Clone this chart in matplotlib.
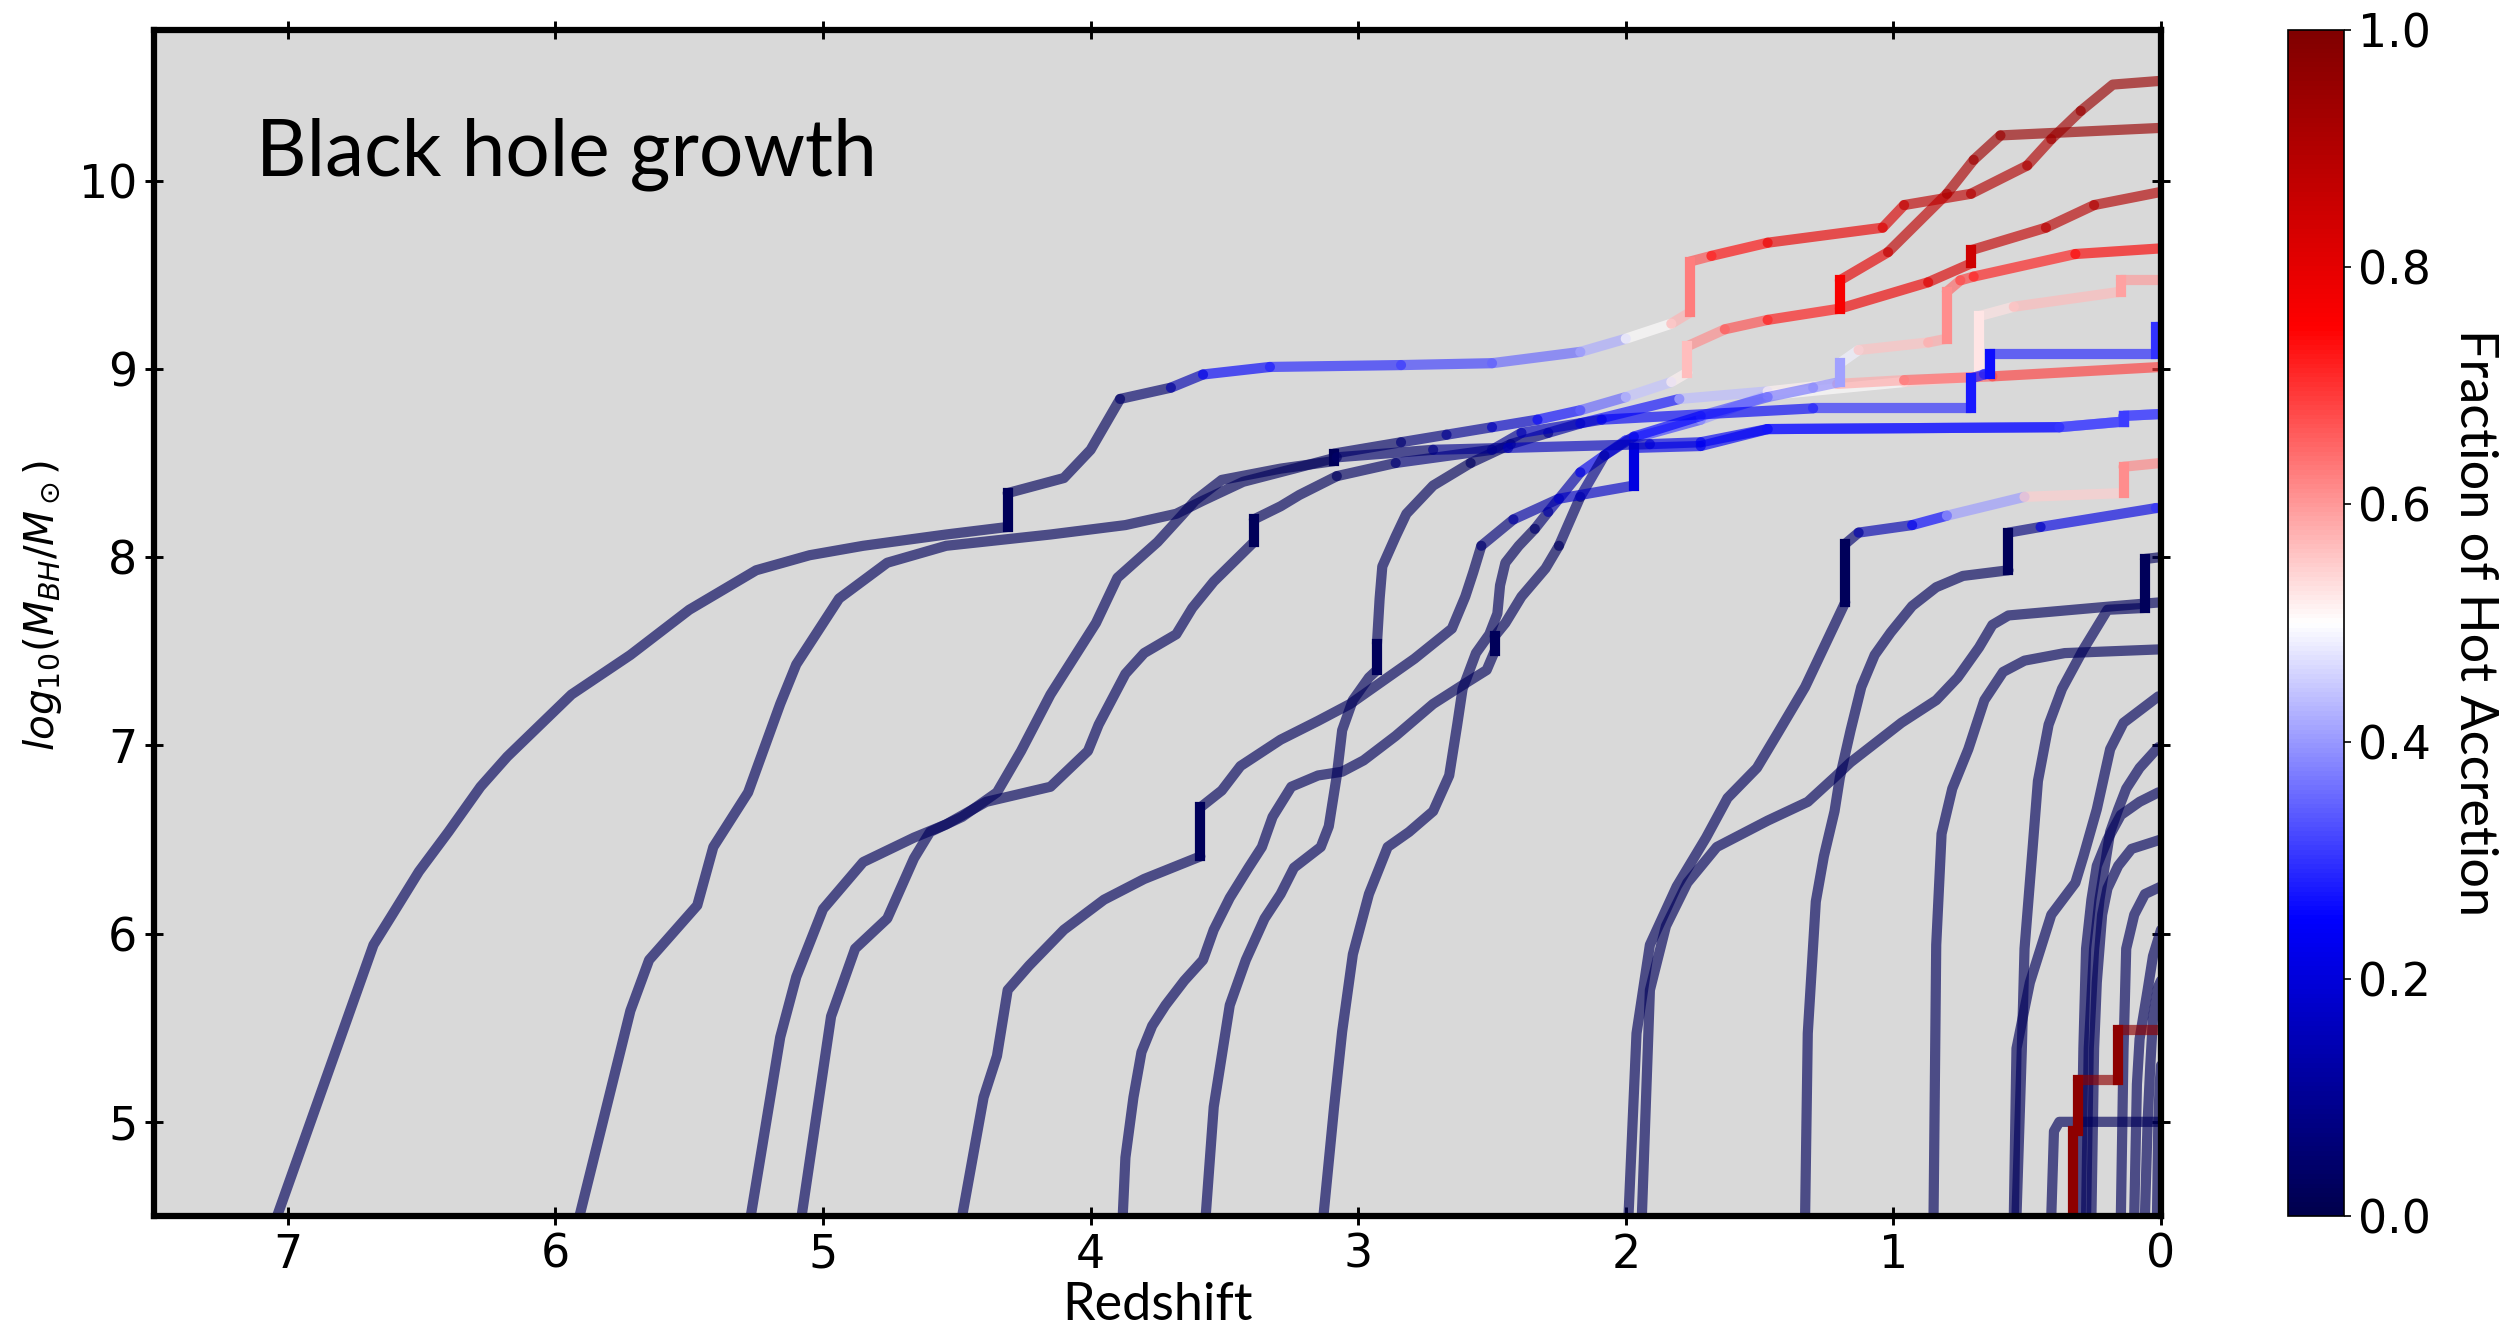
import matplotlib
matplotlib.use("Agg")
import matplotlib.pyplot as plt
import numpy as np
from matplotlib.collections import LineCollection
from matplotlib.colors import Normalize
from matplotlib.cm import ScalarMappable

# every track: (redshift, log10 M_BH, fraction of hot accretion)
bh_a = [(7.04, 4.50, 0.02), (6.68, 5.94, 0.02), (6.61, 6.10, 0.02), (6.51, 6.33, 0.02),
        (6.40, 6.54, 0.02), (6.28, 6.78, 0.02), (6.18, 6.94, 0.02),
        (5.94, 7.27, 0.02), (5.72, 7.48, 0.02), (5.50, 7.72, 0.02), (5.25, 7.93, 0.02),
        (5.05, 8.01, 0.02), (4.85, 8.06, 0.02), (4.54, 8.12, 0.02), (4.31, 8.16, 0.02),
        (4.31, 8.34, 0.02), (4.10, 8.42, 0.02), (4.00, 8.57, 0.02), (3.89, 8.84, 0.02),
        (3.70, 8.90, 0.06), (3.58, 8.97, 0.22), (3.33, 9.01, 0.27), (2.84, 9.02, 0.30),
        (2.50, 9.03, 0.32), (2.17, 9.09, 0.38), (2.00, 9.16, 0.45), (1.83, 9.24, 0.55),
        (1.76, 9.30, 0.60), (1.76, 9.57, 0.65), (1.68, 9.60, 0.70), (1.47, 9.67, 0.78),
        (1.04, 9.75, 0.80), (0.96, 9.87, 0.85), (0.71, 9.93, 0.90), (0.50, 10.08, 0.90),
        (0.41, 10.22, 0.92), (0.30, 10.37, 0.95), (0.18, 10.51, 0.95), (0.00, 10.53, 0.95)]
bh_b = [(5.91, 4.50, 0.02), (5.72, 5.59, 0.02), (5.65, 5.86, 0.02), (5.47, 6.15, 0.02),
        (5.41, 6.46, 0.02), (5.28, 6.75, 0.02), (5.16, 7.22, 0.02), (5.10, 7.43, 0.02),
        (4.94, 7.78, 0.02), (4.76, 7.97, 0.02), (4.54, 8.06, 0.02), (4.15, 8.12, 0.02),
        (3.87, 8.17, 0.02), (3.68, 8.23, 0.02), (3.58, 8.30, 0.02), (3.43, 8.40, 0.02),
        (3.24, 8.47, 0.02), (3.08, 8.53, 0.02), (2.72, 8.57, 0.06), (2.44, 8.58, 0.12),
        (1.91, 8.60, 0.20), (1.72, 8.61, 0.22), (1.47, 8.68, 0.25), (0.38, 8.69, 0.30),
        (0.14, 8.72, 0.32), (0.14, 8.75, 0.30), (0.00, 8.76, 0.33)]
bh_c = [(5.27, 4.50, 0.02), (5.16, 5.45, 0.02), (5.10, 5.77, 0.02), (5.00, 6.13, 0.02),
        (4.85, 6.38, 0.02), (4.66, 6.51, 0.02), (4.54, 6.58, 0.02), (4.39, 6.70, 0.02),
        (4.15, 6.78, 0.02), (4.01, 6.97, 0.02), (3.97, 7.11, 0.02), (3.87, 7.38, 0.02),
        (3.80, 7.49, 0.02), (3.68, 7.59, 0.02), (3.62, 7.73, 0.02), (3.54, 7.87, 0.02),
        (3.39, 8.08, 0.02), (3.39, 8.20, 0.02), (3.29, 8.27, 0.02), (3.22, 8.33, 0.02),
        (3.08, 8.43, 0.02), (2.86, 8.50, 0.04), (2.50, 8.57, 0.08), (2.39, 8.66, 0.12),
        (2.09, 8.73, 0.20), (1.30, 8.79, 0.28), (0.71, 8.79, 0.30), (0.71, 8.95, 0.25),
        (0.66, 8.97, 0.28), (0.64, 8.97, 0.28), (0.64, 9.08, 0.25), (0.02, 9.08, 0.32),
        (0.02, 9.22, 0.28), (0.00, 9.22, 0.30)]
bh_d = [(5.08, 4.50, 0.02), (4.97, 5.56, 0.02), (4.88, 5.92, 0.02), (4.76, 6.08, 0.02),
        (4.66, 6.40, 0.02), (4.60, 6.54, 0.02), (4.48, 6.62, 0.02), (4.35, 6.75, 0.02),
        (4.26, 6.97, 0.02), (4.15, 7.27, 0.02), (3.98, 7.65, 0.02), (3.90, 7.89, 0.02),
        (3.75, 8.08, 0.02), (3.66, 8.22, 0.02), (3.61, 8.30, 0.02), (3.51, 8.41, 0.02),
        (3.29, 8.47, 0.02), (3.09, 8.51, 0.02), (3.09, 8.55, 0.02), (2.84, 8.61, 0.05),
        (2.67, 8.65, 0.08), (2.50, 8.69, 0.12), (2.33, 8.73, 0.22), (2.17, 8.78, 0.30),
        (2.00, 8.85, 0.40), (1.83, 8.93, 0.48), (1.77, 8.98, 0.55), (1.77, 9.12, 0.58),
        (1.63, 9.21, 0.65), (1.47, 9.26, 0.70), (1.20, 9.32, 0.76), (0.87, 9.46, 0.80),
        (0.71, 9.56, 0.84), (0.71, 9.63, 0.85), (0.43, 9.75, 0.88), (0.25, 9.87, 0.90),
        (0.00, 9.94, 0.90)]
bh_d2 = [(1.20, 9.32, 0.78), (1.20, 9.47, 0.75), (1.02, 9.62, 0.85), (0.80, 9.93, 0.90),
         (0.70, 10.11, 0.93), (0.60, 10.24, 0.95), (0.00, 10.28, 0.95)]
bh_e = [(4.48, 4.50, 0.02), (4.40, 5.13, 0.02), (4.35, 5.35, 0.02), (4.31, 5.70, 0.02),
        (4.23, 5.83, 0.02), (4.10, 6.02, 0.02), (3.95, 6.18, 0.02), (3.80, 6.29, 0.02),
        (3.59, 6.41, 0.02), (3.59, 6.67, 0.02), (3.51, 6.76, 0.02), (3.44, 6.89, 0.02),
        (3.29, 7.03, 0.02), (3.15, 7.13, 0.02), (3.03, 7.22, 0.02), (2.93, 7.32, 0.02),
        (2.79, 7.46, 0.02), (2.65, 7.62, 0.02), (2.60, 7.79, 0.02), (2.57, 7.92, 0.02),
        (2.54, 8.06, 0.02), (2.42, 8.20, 0.10), (2.25, 8.31, 0.15), (1.97, 8.38, 0.20),
        (1.97, 8.58, 0.22), (1.72, 8.59, 0.22), (1.47, 8.68, 0.25), (0.38, 8.69, 0.30),
        (0.14, 8.72, 0.32), (0.14, 8.75, 0.30), (0.00, 8.76, 0.33)]
bh_f = [(3.88, 4.50, 0.02), (3.87, 4.81, 0.02), (3.84, 5.13, 0.02), (3.81, 5.37, 0.02),
        (3.77, 5.51, 0.02), (3.72, 5.62, 0.02), (3.65, 5.75, 0.02), (3.58, 5.86, 0.02),
        (3.54, 6.02, 0.02), (3.48, 6.19, 0.02), (3.41, 6.35, 0.02), (3.36, 6.46, 0.02),
        (3.32, 6.62, 0.02), (3.25, 6.78, 0.02), (3.15, 6.84, 0.02), (3.06, 6.86, 0.02),
        (2.98, 6.92, 0.02), (2.86, 7.05, 0.02), (2.72, 7.22, 0.02), (2.61, 7.32, 0.02),
        (2.52, 7.40, 0.02), (2.49, 7.50, 0.02), (2.49, 7.58, 0.02), (2.45, 7.65, 0.02),
        (2.39, 7.79, 0.02), (2.30, 7.94, 0.02), (2.25, 8.06, 0.02), (2.17, 8.32, 0.05),
        (2.08, 8.54, 0.12), (1.97, 8.64, 0.20), (1.72, 8.75, 0.30), (1.47, 8.85, 0.35),
        (1.30, 8.90, 0.38), (1.20, 8.93, 0.40), (1.20, 9.03, 0.42), (1.13, 9.10, 0.55),
        (0.87, 9.14, 0.57), (0.80, 9.16, 0.60), (0.80, 9.41, 0.62), (0.75, 9.47, 0.68),
        (0.70, 9.49, 0.70), (0.32, 9.61, 0.75), (0.00, 9.64, 0.76)]
bh_g = [(3.57, 4.50, 0.02), (3.54, 5.08, 0.02), (3.51, 5.35, 0.02), (3.48, 5.62, 0.02),
        (3.42, 5.86, 0.02), (3.35, 6.08, 0.02), (3.29, 6.21, 0.02), (3.24, 6.35, 0.02),
        (3.14, 6.46, 0.02), (3.11, 6.57, 0.02), (3.08, 6.84, 0.02), (3.06, 7.08, 0.02),
        (3.02, 7.24, 0.02), (2.96, 7.36, 0.02), (2.93, 7.40, 0.02), (2.93, 7.54, 0.02),
        (2.92, 7.78, 0.02), (2.91, 7.95, 0.02), (2.86, 8.11, 0.02), (2.82, 8.23, 0.02),
        (2.72, 8.38, 0.02), (2.58, 8.50, 0.02), (2.43, 8.60, 0.05), (2.29, 8.66, 0.08),
        (2.17, 8.71, 0.15), (1.80, 8.84, 0.38), (1.47, 8.88, 0.48), (1.21, 8.92, 0.55),
        (0.96, 8.94, 0.62), (0.63, 8.96, 0.68), (0.00, 9.01, 0.70)]
bh_h = [(3.13, 4.50, 0.02), (3.09, 5.08, 0.02), (3.06, 5.48, 0.02), (3.02, 5.89, 0.02),
        (2.96, 6.21, 0.02), (2.89, 6.46, 0.02), (2.81, 6.54, 0.02), (2.72, 6.65, 0.02),
        (2.66, 6.84, 0.02), (2.63, 7.11, 0.02), (2.61, 7.30, 0.02), (2.56, 7.49, 0.02),
        (2.51, 7.59, 0.02), (2.48, 7.70, 0.02), (2.47, 7.85, 0.02), (2.45, 7.97, 0.02),
        (2.40, 8.06, 0.02), (2.34, 8.15, 0.02), (2.29, 8.24, 0.08), (2.17, 8.45, 0.18),
        (2.00, 8.62, 0.28), (1.72, 8.73, 0.35), (1.47, 8.86, 0.45), (0.96, 8.93, 0.55),
        (0.68, 8.96, 0.55), (0.68, 9.28, 0.50), (0.55, 9.33, 0.56), (0.15, 9.41, 0.58),
        (0.15, 9.47, 0.60), (0.00, 9.47, 0.60)]
bh_i1 = [(1.99, 4.50, 0.02), (1.96, 5.47, 0.02), (1.91, 5.94, 0.02), (1.81, 6.25, 0.02),
         (1.70, 6.51, 0.02), (1.62, 6.72, 0.02), (1.51, 6.88, 0.02), (1.43, 7.07, 0.02),
         (1.33, 7.31, 0.02), (1.26, 7.52, 0.02), (1.18, 7.76, 0.02), (1.18, 8.07, 0.02),
         (1.13, 8.13, 0.08), (0.93, 8.17, 0.20), (0.80, 8.22, 0.30), (0.51, 8.32, 0.50),
         (0.14, 8.34, 0.60), (0.14, 8.48, 0.62), (0.00, 8.50, 0.62)]
bh_i2 = [(1.94, 4.50, 0.02), (1.91, 5.70, 0.02), (1.85, 6.04, 0.02), (1.77, 6.27, 0.02),
         (1.66, 6.46, 0.02), (1.47, 6.60, 0.02), (1.32, 6.70, 0.02), (1.22, 6.83, 0.02),
         (1.16, 6.91, 0.02), (0.97, 7.12, 0.02), (0.84, 7.24, 0.02), (0.76, 7.36, 0.02),
         (0.68, 7.52, 0.02), (0.63, 7.64, 0.02), (0.57, 7.69, 0.02), (0.17, 7.74, 0.02),
         (0.00, 7.76, 0.02)]
bh_j = [(1.33, 4.50, 0.02), (1.32, 5.47, 0.02), (1.29, 6.17, 0.02), (1.26, 6.41, 0.02),
        (1.22, 6.65, 0.02), (1.20, 6.83, 0.02), (1.16, 7.08, 0.02), (1.12, 7.31, 0.02),
        (1.07, 7.48, 0.02), (1.01, 7.60, 0.02), (0.93, 7.74, 0.02), (0.84, 7.84, 0.02),
        (0.74, 7.90, 0.02), (0.57, 7.93, 0.02), (0.57, 8.13, 0.02), (0.45, 8.16, 0.12),
        (0.02, 8.26, 0.30), (0.00, 8.26, 0.30)]
bh_k = [(0.85, 4.50, 0.02), (0.84, 5.94, 0.02), (0.82, 6.53, 0.02), (0.78, 6.77, 0.02),
        (0.72, 6.98, 0.02), (0.66, 7.24, 0.02), (0.59, 7.39, 0.02), (0.51, 7.45, 0.02),
        (0.36, 7.49, 0.02), (0.00, 7.51, 0.02)]
bh_l1 = [(0.54, 4.50, 0.02), (0.52, 5.39, 0.02), (0.51, 5.92, 0.02), (0.48, 6.45, 0.02),
         (0.46, 6.81, 0.02), (0.42, 7.11, 0.02), (0.37, 7.30, 0.02), (0.29, 7.51, 0.02),
         (0.20, 7.72, 0.02), (0.06, 7.73, 0.02), (0.06, 7.99, 0.02), (0.00, 8.00, 0.02)]
bh_l2 = [(0.55, 4.50, 0.02), (0.54, 5.39, 0.02), (0.49, 5.74, 0.02), (0.41, 6.10, 0.02),
         (0.32, 6.27, 0.02), (0.29, 6.41, 0.02), (0.24, 6.66, 0.02), (0.19, 6.98, 0.02),
         (0.14, 7.12, 0.02), (0.01, 7.26, 0.02), (0.00, 7.26, 0.02)]
bh_m = [(0.41, 4.50, 0.02), (0.40, 4.95, 0.02), (0.38, 5.00, 0.02), (0.00, 5.00, 0.02)]
bh_red = [(0.33, 4.50, 0.97), (0.33, 4.95, 0.97), (0.31, 4.95, 0.97), (0.31, 5.22, 0.97),
          (0.16, 5.22, 0.97), (0.16, 5.49, 0.97), (0.00, 5.49, 0.97)]
bh_n1 = [(0.28, 4.50, 0.02), (0.27, 5.39, 0.02), (0.25, 5.92, 0.02), (0.23, 6.18, 0.02),
         (0.21, 6.36, 0.02), (0.19, 6.54, 0.02), (0.16, 6.66, 0.02), (0.13, 6.77, 0.02),
         (0.08, 6.88, 0.02), (0.01, 6.99, 0.02), (0.00, 6.99, 0.02)]
bh_n2 = [(0.30, 4.50, 0.02), (0.29, 5.39, 0.02), (0.28, 5.92, 0.02), (0.26, 6.18, 0.02),
         (0.24, 6.36, 0.02), (0.20, 6.50, 0.02), (0.15, 6.63, 0.02), (0.08, 6.70, 0.02),
         (0.01, 6.75, 0.02), (0.00, 6.75, 0.02)]
bh_n3 = [(0.26, 4.50, 0.02), (0.25, 5.39, 0.02), (0.24, 5.74, 0.02), (0.22, 6.10, 0.02),
         (0.20, 6.24, 0.02), (0.16, 6.36, 0.02), (0.11, 6.45, 0.02), (0.00, 6.50, 0.02)]
bh_n4 = [(0.15, 4.50, 0.02), (0.14, 5.39, 0.02), (0.135, 5.65, 0.02), (0.13, 5.92, 0.02),
         (0.10, 6.10, 0.02), (0.06, 6.21, 0.02), (0.00, 6.25, 0.02)]
bh_n5 = [(0.10, 4.50, 0.02), (0.09, 5.20, 0.02), (0.08, 5.44, 0.02), (0.05, 5.70, 0.02),
         (0.03, 5.88, 0.02), (0.00, 6.02, 0.02)]
bh_n6 = [(0.06, 4.50, 0.02), (0.05, 5.00, 0.02), (0.04, 5.30, 0.02), (0.03, 5.55, 0.02),
         (0.01, 5.72, 0.02), (0.00, 5.75, 0.02)]
bh_n7 = [(0.015, 4.50, 0.02), (0.01, 5.00, 0.02), (0.005, 5.20, 0.02), (0.00, 5.30, 0.02)]

tracks = [bh_n7, bh_n6, bh_n5, bh_n4, bh_n3, bh_n2, bh_n1, bh_m, bh_l2, bh_l1, bh_k,
          bh_j, bh_i2, bh_i1, bh_h, bh_g, bh_f, bh_e, bh_c, bh_d, bh_b, bh_a, bh_d2, bh_red]

norm = Normalize(vmin=0.0, vmax=1.0)
cmap = plt.get_cmap("seismic")

fig = plt.figure(figsize=(2509 / 150, 1333 / 150), dpi=150)
ax = fig.add_axes([0.0614, 0.0878, 0.7999, 0.8897])
cax = fig.add_axes([0.9119, 0.0878, 0.0223, 0.8897])
ax.set_facecolor("#d9d9d9")

for trk in tracks:
    arr = np.asarray(trk, dtype=float)
    runs, cols, solid = [], [], []
    for i in range(len(arr) - 1):
        f = 0.5 * (arr[i, 2] + arr[i + 1, 2])
        jump = arr[i, 0] == arr[i + 1, 0]  # vertical jumps (mergers) drawn solid
        if runs and not jump and not solid[-1] and cols[-1] == f:
            runs[-1].append(arr[i + 1, :2])
        else:
            runs.append([arr[i, :2], arr[i + 1, :2]])
            cols.append(f)
            solid.append(jump)
    solid = np.array(solid)
    cols = np.array(cols)
    for keep, alpha, cap in ((~solid, 0.65, "round"), (solid, 1.0, "projecting")):
        if keep.any():
            lc = LineCollection([r for r, k in zip(runs, keep) if k], cmap=cmap, norm=norm,
                                linewidths=4.9, alpha=alpha, capstyle=cap, joinstyle="round")
            lc.set_array(cols[keep])
            ax.add_collection(lc)

ax.set_xlim(7.5, 0)
ax.set_ylim(4.5, 10.8)
ax.set_xticks(range(0, 8))
ax.set_yticks(range(5, 11))
ax.tick_params(direction="inout", length=9, width=1.4, top=True, right=True, labelsize=22)
for sp in ax.spines.values():
    sp.set_linewidth(3)

ax.set_xlabel("Redshift", fontsize=25, family="Lato", labelpad=2)
ax.text(-0.0558, 0.515, r"$log_{10}(M_{BH}/M_\odot)$", transform=ax.transAxes,
        rotation=90, ha="center", va="center", fontsize=19.5)
ax.text(0.051, 0.8775, "Black hole growth", transform=ax.transAxes,
        fontsize=37.7, family="Lato", va="baseline")

cb = fig.colorbar(ScalarMappable(norm=norm, cmap=cmap), cax=cax)
cb.set_ticks([0.0, 0.2, 0.4, 0.6, 0.8, 1.0])
cb.ax.tick_params(labelsize=22)
cb.set_label("Fraction of Hot Accretion", rotation=270, fontsize=25,
             family="Lato", labelpad=32)

fig.savefig("out.png", dpi=150)
